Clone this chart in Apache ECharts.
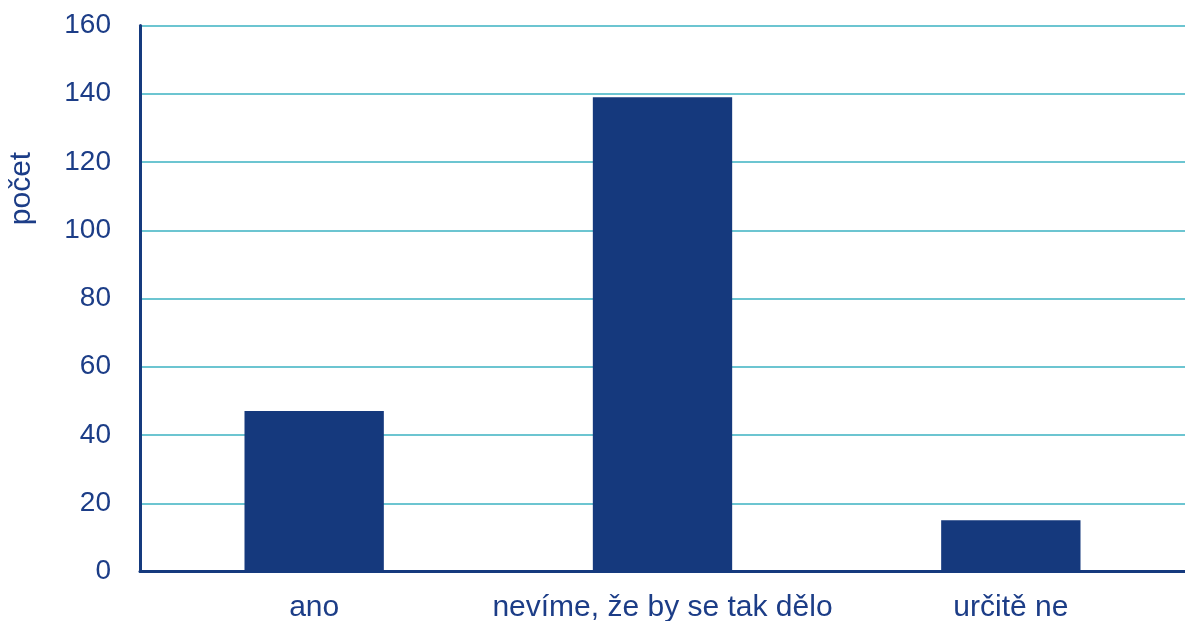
<!DOCTYPE html>
<html>
<head>
<meta charset="utf-8">
<script src="https://cdn.jsdelivr.net/npm/echarts@6/dist/echarts.min.js"></script>
<style>html,body{margin:0;padding:0;background:#fff}#c{width:1185px;height:621px}</style>
</head>
<body>
<div id="c"></div>
<script>
const categories = ['ano', 'nevíme, že by se tak dělo', 'určitě ne'];
const counts = [47, 139, 15];
const yAxisName = 'počet';

const textColor = '#1c3d87';
const chart = echarts.init(document.getElementById('c'));
chart.setOption({
  animation: false,
  backgroundColor: '#ffffff',
  grid: { left: 140, right: 0, top: 25.5, bottom: 49.5, containLabel: false, outerBoundsMode: 'none' },
  xAxis: {
    type: 'category',
    data: categories,
    axisLine: { show: true, lineStyle: { color: '#153a7e', width: 3 } },
    axisTick: { show: false },
    axisLabel: { interval: 0, color: textColor, fontSize: 30, fontFamily: 'Liberation Sans, Arial, sans-serif', margin: 21 }
  },
  yAxis: {
    type: 'value',
    min: 0, max: 160, interval: 20,
    name: yAxisName,
    nameLocation: 'middle',
    nameGap: 103,
    nameTextStyle: { color: textColor, fontSize: 30, fontFamily: 'Liberation Sans, Arial, sans-serif', padding: [0, 0, 0, 220] },
    axisLine: { show: true, lineStyle: { color: '#153a7e', width: 3 } },
    axisTick: { show: false },
    axisLabel: { color: textColor, fontSize: 28, fontFamily: 'Liberation Sans, Arial, sans-serif', margin: 29 },
    splitLine: { show: true, lineStyle: { color: '#6cc5d1', width: 2 } }
  },
  series: [{
    type: 'bar',
    data: counts,
    barCategoryGap: '60%',
    itemStyle: { color: '#15397d' }
  }]
});
</script>
</body>
</html>
